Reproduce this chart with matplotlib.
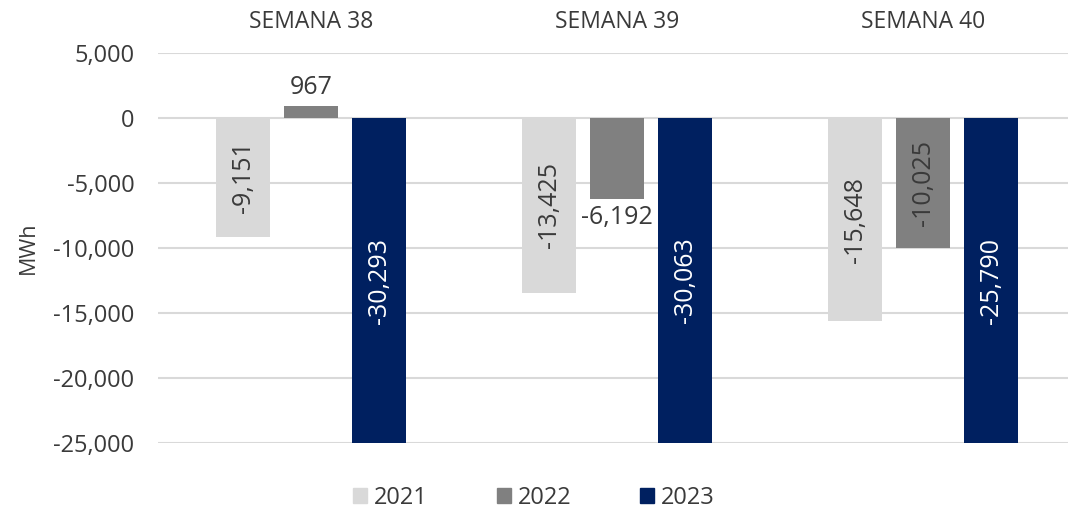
import numpy as np
import matplotlib
matplotlib.use("Agg")
import matplotlib.pyplot as plt
from matplotlib.patches import Patch

plt.rcParams['font.family'] = ['Open Sans', 'DejaVu Sans']

# datos
semanas = ["SEMANA 38", "SEMANA 39", "SEMANA 40"]
anios = ["2021", "2022", "2023"]
v2021 = [-9151, -13425, -15648]
v2022 = [967, -6192, -10025]
v2023 = [-30293, -30063, -25790]

colores = ["#d9d9d9", "#808080", "#002060"]
texto = "#3a3a3a"
ymin, ymax = -25000, 5000

fig = plt.figure(figsize=(10.68, 5.13), dpi=100)
ax = fig.add_axes([0.148, 0.1365, 0.8596, 0.76])

x = np.arange(len(semanas))
ancho = 0.1765
paso = 0.222
series = [v2021, v2022, v2023]

for i, vals in enumerate(series):
    pos = x + (i - 1) * paso
    ax.bar(pos, vals, width=ancho, color=colores[i], zorder=3)
    for p, v in zip(pos, vals):
        lab = f"{v:,}"
        vis = max(v, ymin)
        if i == 1 and v > -9000:
            # etiqueta horizontal fuera de la barra
            if v >= 0:
                ax.text(p, v + 400, lab, ha="center", va="bottom", fontsize=18, color=texto, zorder=4)
            else:
                ax.text(p, v - 500, lab, ha="center", va="top", fontsize=18, color=texto, zorder=4)
        else:
            c = "white" if i == 2 else texto
            ax.text(p, vis / 2, lab, ha="center", va="center", rotation=90,
                    fontsize=18, color=c, zorder=4)

ax.set_ylim(ymin, ymax)
ax.set_xlim(-0.5, 2.5)
ax.set_yticks(np.arange(-25000, 5001, 5000))
ax.yaxis.set_major_formatter(matplotlib.ticker.FuncFormatter(lambda v, _: f"{int(v):,}"))
ax.grid(axis="y", color="#d9d9d9", lw=1.5, zorder=0)
ax.set_axisbelow(True)
for s in ax.spines.values():
    s.set_visible(False)
ax.tick_params(axis="y", length=0, labelsize=17, labelcolor=texto, pad=17)
ax.xaxis.tick_top()
ax.set_xticks(x)
ax.set_xticklabels(semanas)
ax.tick_params(axis="x", length=0, labelsize=16.5, labelcolor=texto, pad=14)
ax.set_ylabel("MWh", fontsize=15.5, color=texto, labelpad=10)

handles = [Patch(color=c, label=a) for c, a in zip(colores, anios)]
fig.legend(handles=handles, loc="lower center", bbox_to_anchor=(0.5, -0.035), ncol=3,
           frameon=False, fontsize=17, handlelength=0.6, handleheight=0.6,
           handletextpad=0.3, columnspacing=2.9, labelcolor=texto)

fig.savefig("out.png", dpi=100)
